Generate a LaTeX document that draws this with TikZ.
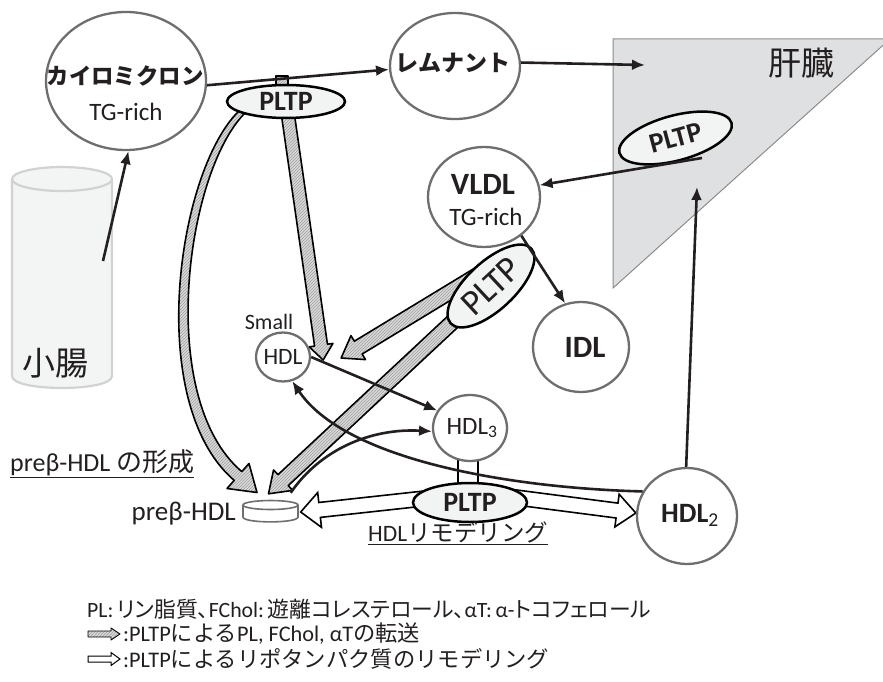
\documentclass[tikz,border=0pt]{standalone}
\usepackage{fontspec}
\setmainfont{Carlito}
\newfontfamily\jpf{Noto Sans CJK JP}
\newfontfamily\jpp{Noto Sans CJK JP}[RawFeature=+palt]
\usetikzlibrary{shapes.geometric,arrows.meta,calc,patterns,backgrounds}
\definecolor{cgray}{HTML}{6E6E6E}
\definecolor{pfill}{HTML}{F2F4F3}
\definecolor{liverfill}{HTML}{DFE0E2}
\definecolor{liverline}{HTML}{8C8C8C}
\definecolor{cylfill}{HTML}{F3F4F4}
\definecolor{cylline}{HTML}{D1D2D3}
\definecolor{txt}{HTML}{231F20}
\newcommand\J[1]{{\jpf #1}}
\newcommand\JP[1]{{\jpp #1}}
\newcommand\fs[1]{\fontsize{#1}{#1}\selectfont}
% style, start, tip, shaft half width, head half width, head length
\newcommand\fatarrow[6]{%
  \coordinate (fatC) at ($(#3)!#6!(#2)$);
  \path[#1] ($(#2)!#4!90:(#3)$) -- ($(fatC)!#4!90:(#3)$) -- ($(fatC)!#5!90:(#3)$) -- (#3)
    -- ($(fatC)!#5!-90:(#3)$) -- ($(fatC)!#4!-90:(#3)$) -- ($(#2)!#4!-90:(#3)$) -- cycle;}
\begin{document}
\begin{tikzpicture}[x=1pt,y=-1pt,
  circ/.style={ellipse, draw=cgray, line width=2.3pt, fill=white, inner sep=0pt},
  pltp/.style={ellipse, draw=black, line width=2.5pt, fill=pfill, inner sep=0pt, text=txt, font=\fs{28}\bfseries},
  arr/.style={-{Latex[length=13pt,width=11pt]}, line width=2.6pt, draw=txt},
  hatch/.style={draw=black, line width=1.6pt, line join=round, preaction={fill=gray!30}, pattern=north east lines, pattern color=gray!75},
  hollow/.style={draw=black, line width=1.6pt, fill=white, line join=miter},
  lbl/.style={inner sep=0pt, text=txt},
  pbstyle/.style={draw=cgray, line width=1.6pt, fill=white}]
\useasboundingbox (0,0) rectangle (883,682);
% liver
\path[fill=liverfill, draw=liverline, line width=1pt] (613,39) -- (890,39) -- (613,288) -- cycle;
\node[lbl, font=\jpf\fs{33}] (liver-t) at (801,63) {肝臓};
% small intestine
\path[fill=cylfill] (12,179) -- (12,376) .. controls (12,392) and (112,392) .. (112,376) -- (112,179) -- cycle;
\draw[cylline, line width=2.2pt] (12,179) -- (12,376) .. controls (12,392) and (112,392) .. (112,376) -- (112,179);
\draw[cylline, line width=2.2pt, fill=cylfill] (62,179) ellipse [x radius=50, y radius=12];
\node[lbl, font=\jpf\fs{33}] (gut-t) at (56,363) {小腸};
\coordinate (gut) at (103,261);
% lipoprotein nodes
\node[circ, minimum width=160pt, minimum height=138pt] (chylo) at (126,81) {};
\node[circ, minimum width=130pt, minimum height=106pt] (remn) at (455,66) {};
\node[circ, minimum width=112pt, minimum height=100pt] (vldl) at (484,197) {};
\node[circ, minimum width=96pt, minimum height=90pt] (idl) at (581,347) {};
\node[circ, minimum width=54pt, minimum height=49pt] (shdl) at (283,357) {};
\node[circ, minimum width=74pt, minimum height=66pt] (hdlt) at (470,428) {};
\node[circ, minimum width=100pt, minimum height=96pt] (hdlb) at (687,516) {};
% pre-beta HDL disc
\node[inner sep=0pt, minimum width=56pt, minimum height=22pt] (pbcyl) at (270.5,511) {};
\draw[pbstyle] (243,505) -- (243,517) .. controls (243,523.5) and (298,523.5) .. (298,517) -- (298,505);
\draw[pbstyle] (270.5,505) ellipse [x radius=27.5, y radius=4.5];
% PLTP
\node[pltp, minimum width=118pt, minimum height=33pt] (tpltp) at (286,101.5) {PLTP};
\node[pltp, minimum width=116pt, minimum height=45pt, rotate=15] (lpltp) at (675.5,138) {PLTP};
\node[pltp, minimum width=110pt, minimum height=48pt, rotate=43, font=\fs{36}] (vpltp) at (491,286) {PLTP};
\node[pltp, minimum width=114pt, minimum height=39pt] (bpltp) at (470,502.5) {PLTP};
% labels
\node[lbl, font=\jpf\bfseries\fs{22.4}] (chylo-t) at (125,76) {カイロミクロン};
\node[lbl, font=\fs{25}] (chylo-s) at (126,112) {TG-rich};
\node[lbl, font=\jpf\bfseries\fs{23}] (remn-t) at (453,63) {レムナント};
\node[lbl, font=\bfseries\fs{31}] (vldl-t) at (483,184) {VLDL};
\node[lbl, font=\fs{25}] (vldl-s) at (486,217) {TG-rich};
\node[lbl, font=\bfseries\fs{31}] (idl-t) at (585,347) {IDL};
\node[lbl, font=\fs{22}] (small-t) at (269,322) {Small};
\node[lbl, font=\fs{23.5}] (shdl-t) at (283,357) {HDL};
\node[lbl, font=\fs{25}] (hdlt-t) at (472,428) {HDL\textsubscript{3}};
\node[lbl, font=\bfseries\fs{28}] (hdlb-t) at (690,515) {HDL\textsubscript{\mdseries 2}};
\node[lbl, font=\fs{27}, anchor=base east] (pb-t) at (236,520) {preβ-HDL};
\node[lbl, font=\fs{26}, anchor=base west] (form-t) at (10,471) {\underline{preβ-HDL \J{の形成}}};
\node[lbl, font=\fs{23.5}, anchor=base west] (remod-t) at (368,541) {\underline{HDL\J{リモデリング}}};
% legend
\node[lbl, font=\fs{21.8}, anchor=west] (leg1) at (87,609) {PL:\,\JP{リン脂質、}FChol:\,\JP{遊離コレステロール、}αT:\,α-\JP{トコフェロール}};
\node[lbl, font=\fs{22.3}, anchor=west] (leg2) at (123,634) {:PLTP\J{による}PL, FChol, αT\J{の転送}};
\node[lbl, font=\fs{22.3}, anchor=west] (leg3) at (123,659) {:PLTP\J{によるリポタンパク質のリモデリング}};
\coordinate (lg2a) at (88,634); \coordinate (lg2b) at (120,634);
\coordinate (lg3a) at (88,659); \coordinate (lg3b) at (120,659);
\fatarrow{hatch, line width=0.9pt}{lg2a}{lg2b}{3pt}{6pt}{9pt}
\fatarrow{hollow, line width=1pt}{lg3a}{lg3b}{3pt}{6.5pt}{9pt}
% transfer / remodeling arrows behind
\begin{scope}[on background layer]
  \coordinate (a1tip) at ($(shdl.east)+(12,3)$);
  \coordinate (a2s) at ($(vpltp.center)+(0,-19)$);
  \coordinate (a2tip) at ($(shdl.east)+(30,1)$);
  \coordinate (a3tip) at ($(pbcyl.north)+(-2,-6)$);
  \fatarrow{hatch}{tpltp.center}{a1tip}{6.5pt}{12pt}{15pt}
  \fatarrow{hatch}{a2s}{a2tip}{7.5pt}{14pt}{20pt}
  \fatarrow{hatch}{vpltp.center}{a3tip}{7.5pt}{14pt}{20pt}
  \path[hatch] (241,109) .. controls (178,166) and (143,402) .. (234.2,480.4) -- (227,488.5) -- (257,492.5)
     -- (249,463.5) -- (241.8,471.6) .. controls (155,398) and (186,170) .. (246,112) -- cycle;
  \path[hatch] ($(tpltp.north)+(-10,-8)$) rectangle ($(tpltp.north)+(2,3)$);
  \coordinate (hls) at ($(bpltp.center)+(0,-9)$);
  \coordinate (hlt) at ($(pbcyl.east)+(2,1)$);
  \coordinate (hrs) at ($(bpltp.center)+(0,-11)$);
  \coordinate (hrt) at ($(hdlb.west)+(0,-3)$);
  \fatarrow{hollow}{hls}{hlt}{7.5pt}{17.5pt}{19pt}
  \fatarrow{hollow}{hrs}{hrt}{7.5pt}{16.5pt}{19pt}
  \draw[line width=1.6pt] ($(hdlt.center)+(-12,0)$) -- ($(bpltp.center)+(-12,0)$);
  \draw[line width=1.6pt] ($(hdlt.center)+(8,0)$) -- ($(bpltp.center)+(8,0)$);
\end{scope}
% metabolic arrows
\coordinate (liverin) at (645,65);
\coordinate (lpout) at (702,158);
\coordinate (liverbot) at (697,187);
\coordinate (pbout) at ($(pbcyl.north east)+(-8,-7)$);
\draw[arr] (chylo.-3) -- (remn.183);
\draw[arr] (remn.3) -- (liverin);
\draw[arr] (gut) -- (chylo.-88);
\draw[arr] (lpout) -- (vldl.12);
\draw[arr] (vldl.-46) -- (idl.110);
\draw[arr] (hdlb.91) -- (liverbot);
\draw[arr] (shdl.0) -- (hdlt.152);
\draw[arr] (pbout) .. controls (320,450) and (370,428) .. (hdlt.185);
\draw[arr] (hdlb.151) .. controls (510,488) and (345,460) .. (shdl.-69);
\end{tikzpicture}
\end{document}
